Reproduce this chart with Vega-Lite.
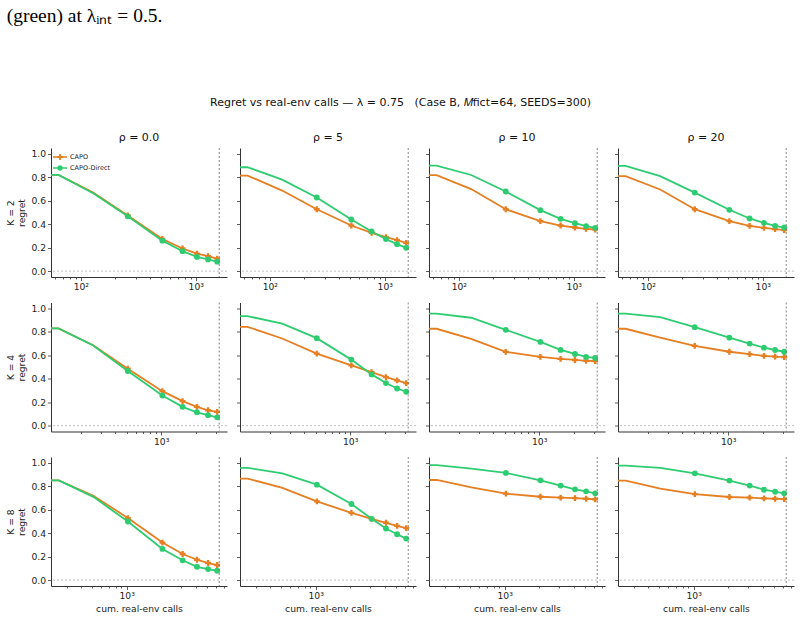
{
"$schema":"https://vega.github.io/schema/vega-lite/v6.json",
"padding":{"left":6,"right":2,"top":6,"bottom":4},
"title":{"text":"(green) at λᵢₙₜ = 0.5.","anchor":"start","font":"Liberation Serif","fontSize":19.5,"fontWeight":"normal","color":"#000","offset":70},
"datasets":{"d":[
{"K":2,"r":0,"x":55,"CAPO":0.82,"CAPO-Direct":0.82},{"K":2,"r":0,"x":64,"CAPO":0.82,"CAPO-Direct":0.82},{"K":2,"r":0,"x":128,"CAPO":0.67,"CAPO-Direct":0.665},{"K":2,"r":0,"x":256,"CAPO":0.475,"CAPO-Direct":0.467},{"K":2,"r":0,"x":512,"CAPO":0.274,"CAPO-Direct":0.26},{"K":2,"r":0,"x":768,"CAPO":0.193,"CAPO-Direct":0.17},{"K":2,"r":0,"x":1024,"CAPO":0.15,"CAPO-Direct":0.121},{"K":2,"r":0,"x":1280,"CAPO":0.127,"CAPO-Direct":0.10},{"K":2,"r":0,"x":1536,"CAPO":0.107,"CAPO-Direct":0.081},
{"K":2,"r":5,"x":55,"CAPO":0.815,"CAPO-Direct":0.886},{"K":2,"r":5,"x":64,"CAPO":0.815,"CAPO-Direct":0.886},{"K":2,"r":5,"x":128,"CAPO":0.687,"CAPO-Direct":0.78},{"K":2,"r":5,"x":256,"CAPO":0.528,"CAPO-Direct":0.628},{"K":2,"r":5,"x":512,"CAPO":0.389,"CAPO-Direct":0.44},{"K":2,"r":5,"x":768,"CAPO":0.327,"CAPO-Direct":0.338},{"K":2,"r":5,"x":1024,"CAPO":0.29,"CAPO-Direct":0.273},{"K":2,"r":5,"x":1280,"CAPO":0.264,"CAPO-Direct":0.23},{"K":2,"r":5,"x":1536,"CAPO":0.241,"CAPO-Direct":0.199},
{"K":2,"r":10,"x":55,"CAPO":0.818,"CAPO-Direct":0.90},{"K":2,"r":10,"x":64,"CAPO":0.818,"CAPO-Direct":0.90},{"K":2,"r":10,"x":128,"CAPO":0.70,"CAPO-Direct":0.82},{"K":2,"r":10,"x":256,"CAPO":0.528,"CAPO-Direct":0.679},{"K":2,"r":10,"x":512,"CAPO":0.426,"CAPO-Direct":0.52},{"K":2,"r":10,"x":768,"CAPO":0.389,"CAPO-Direct":0.446},{"K":2,"r":10,"x":1024,"CAPO":0.372,"CAPO-Direct":0.409},{"K":2,"r":10,"x":1280,"CAPO":0.361,"CAPO-Direct":0.384},{"K":2,"r":10,"x":1536,"CAPO":0.355,"CAPO-Direct":0.369},
{"K":2,"r":20,"x":55,"CAPO":0.81,"CAPO-Direct":0.898},{"K":2,"r":20,"x":64,"CAPO":0.81,"CAPO-Direct":0.898},{"K":2,"r":20,"x":128,"CAPO":0.696,"CAPO-Direct":0.81},{"K":2,"r":20,"x":256,"CAPO":0.528,"CAPO-Direct":0.67},{"K":2,"r":20,"x":512,"CAPO":0.426,"CAPO-Direct":0.523},{"K":2,"r":20,"x":768,"CAPO":0.386,"CAPO-Direct":0.449},{"K":2,"r":20,"x":1024,"CAPO":0.369,"CAPO-Direct":0.412},{"K":2,"r":20,"x":1280,"CAPO":0.358,"CAPO-Direct":0.386},{"K":2,"r":20,"x":1536,"CAPO":0.349,"CAPO-Direct":0.372},
{"K":4,"r":0,"x":110,"CAPO":0.829,"CAPO-Direct":0.829},{"K":4,"r":0,"x":128,"CAPO":0.829,"CAPO-Direct":0.829},{"K":4,"r":0,"x":256,"CAPO":0.686,"CAPO-Direct":0.683},{"K":4,"r":0,"x":512,"CAPO":0.486,"CAPO-Direct":0.466},{"K":4,"r":0,"x":1024,"CAPO":0.294,"CAPO-Direct":0.257},{"K":4,"r":0,"x":1536,"CAPO":0.209,"CAPO-Direct":0.16},{"K":4,"r":0,"x":2048,"CAPO":0.16,"CAPO-Direct":0.114},{"K":4,"r":0,"x":2560,"CAPO":0.131,"CAPO-Direct":0.089},{"K":4,"r":0,"x":3072,"CAPO":0.117,"CAPO-Direct":0.071},
{"K":4,"r":5,"x":110,"CAPO":0.843,"CAPO-Direct":0.934},{"K":4,"r":5,"x":128,"CAPO":0.843,"CAPO-Direct":0.934},{"K":4,"r":5,"x":256,"CAPO":0.743,"CAPO-Direct":0.869},{"K":4,"r":5,"x":512,"CAPO":0.614,"CAPO-Direct":0.746},{"K":4,"r":5,"x":1024,"CAPO":0.514,"CAPO-Direct":0.563},{"K":4,"r":5,"x":1536,"CAPO":0.457,"CAPO-Direct":0.437},{"K":4,"r":5,"x":2048,"CAPO":0.414,"CAPO-Direct":0.363},{"K":4,"r":5,"x":2560,"CAPO":0.386,"CAPO-Direct":0.317},{"K":4,"r":5,"x":3072,"CAPO":0.363,"CAPO-Direct":0.289},
{"K":4,"r":10,"x":110,"CAPO":0.826,"CAPO-Direct":0.955},{"K":4,"r":10,"x":128,"CAPO":0.826,"CAPO-Direct":0.955},{"K":4,"r":10,"x":256,"CAPO":0.74,"CAPO-Direct":0.92},{"K":4,"r":10,"x":512,"CAPO":0.629,"CAPO-Direct":0.817},{"K":4,"r":10,"x":1024,"CAPO":0.586,"CAPO-Direct":0.714},{"K":4,"r":10,"x":1536,"CAPO":0.569,"CAPO-Direct":0.646},{"K":4,"r":10,"x":2048,"CAPO":0.56,"CAPO-Direct":0.611},{"K":4,"r":10,"x":2560,"CAPO":0.553,"CAPO-Direct":0.586},{"K":4,"r":10,"x":3072,"CAPO":0.551,"CAPO-Direct":0.577},
{"K":4,"r":20,"x":110,"CAPO":0.826,"CAPO-Direct":0.955},{"K":4,"r":20,"x":128,"CAPO":0.826,"CAPO-Direct":0.955},{"K":4,"r":20,"x":256,"CAPO":0.75,"CAPO-Direct":0.925},{"K":4,"r":20,"x":512,"CAPO":0.68,"CAPO-Direct":0.84},{"K":4,"r":20,"x":1024,"CAPO":0.63,"CAPO-Direct":0.75},{"K":4,"r":20,"x":1536,"CAPO":0.61,"CAPO-Direct":0.70},{"K":4,"r":20,"x":2048,"CAPO":0.595,"CAPO-Direct":0.665},{"K":4,"r":20,"x":2560,"CAPO":0.588,"CAPO-Direct":0.645},{"K":4,"r":20,"x":3072,"CAPO":0.585,"CAPO-Direct":0.63},
{"K":8,"r":0,"x":219,"CAPO":0.851,"CAPO-Direct":0.851},{"K":8,"r":0,"x":256,"CAPO":0.851,"CAPO-Direct":0.851},{"K":8,"r":0,"x":512,"CAPO":0.72,"CAPO-Direct":0.71},{"K":8,"r":0,"x":1024,"CAPO":0.529,"CAPO-Direct":0.50},{"K":8,"r":0,"x":2048,"CAPO":0.32,"CAPO-Direct":0.266},{"K":8,"r":0,"x":3072,"CAPO":0.223,"CAPO-Direct":0.169},{"K":8,"r":0,"x":4096,"CAPO":0.174,"CAPO-Direct":0.114},{"K":8,"r":0,"x":5120,"CAPO":0.146,"CAPO-Direct":0.094},{"K":8,"r":0,"x":6144,"CAPO":0.129,"CAPO-Direct":0.08},
{"K":8,"r":5,"x":219,"CAPO":0.866,"CAPO-Direct":0.957},{"K":8,"r":5,"x":256,"CAPO":0.866,"CAPO-Direct":0.957},{"K":8,"r":5,"x":512,"CAPO":0.786,"CAPO-Direct":0.911},{"K":8,"r":5,"x":1024,"CAPO":0.671,"CAPO-Direct":0.814},{"K":8,"r":5,"x":2048,"CAPO":0.574,"CAPO-Direct":0.649},{"K":8,"r":5,"x":3072,"CAPO":0.523,"CAPO-Direct":0.523},{"K":8,"r":5,"x":4096,"CAPO":0.489,"CAPO-Direct":0.44},{"K":8,"r":5,"x":5120,"CAPO":0.463,"CAPO-Direct":0.391},{"K":8,"r":5,"x":6144,"CAPO":0.443,"CAPO-Direct":0.354},
{"K":8,"r":10,"x":219,"CAPO":0.854,"CAPO-Direct":0.98},{"K":8,"r":10,"x":256,"CAPO":0.854,"CAPO-Direct":0.98},{"K":8,"r":10,"x":512,"CAPO":0.79,"CAPO-Direct":0.95},{"K":8,"r":10,"x":1024,"CAPO":0.737,"CAPO-Direct":0.914},{"K":8,"r":10,"x":2048,"CAPO":0.711,"CAPO-Direct":0.851},{"K":8,"r":10,"x":3072,"CAPO":0.703,"CAPO-Direct":0.806},{"K":8,"r":10,"x":4096,"CAPO":0.70,"CAPO-Direct":0.774},{"K":8,"r":10,"x":5120,"CAPO":0.694,"CAPO-Direct":0.757},{"K":8,"r":10,"x":6144,"CAPO":0.689,"CAPO-Direct":0.74},
{"K":8,"r":20,"x":219,"CAPO":0.849,"CAPO-Direct":0.977},{"K":8,"r":20,"x":256,"CAPO":0.849,"CAPO-Direct":0.977},{"K":8,"r":20,"x":512,"CAPO":0.78,"CAPO-Direct":0.957},{"K":8,"r":20,"x":1024,"CAPO":0.734,"CAPO-Direct":0.911},{"K":8,"r":20,"x":2048,"CAPO":0.709,"CAPO-Direct":0.849},{"K":8,"r":20,"x":3072,"CAPO":0.703,"CAPO-Direct":0.806},{"K":8,"r":20,"x":4096,"CAPO":0.697,"CAPO-Direct":0.771},{"K":8,"r":20,"x":5120,"CAPO":0.694,"CAPO-Direct":0.754},{"K":8,"r":20,"x":6144,"CAPO":0.691,"CAPO-Direct":0.74}
]},
"data":{"name":"d"},
"resolve":{"scale":{"x":"independent","y":"independent","color":"independent","shape":"independent"},"axis":{"x":"independent","y":"independent"},"legend":{"color":"independent","shape":"independent"}},
"vconcat":[{
"title":{"text":"Regret vs real-env calls — λ = 0.75\u00a0\u00a0\u00a0(Case B, 𝑀fict=64, SEEDS=300)","fontSize":11,"fontWeight":"normal","font":"DejaVu Sans","anchor":"middle","offset":24,"color":"#111"},
"spacing":9.5,
"resolve":{"scale":{"x":"independent","y":"independent","color":"independent","shape":"independent"},"axis":{"x":"independent","y":"independent"},"legend":{"color":"independent","shape":"independent"}},
"vconcat":[
{"spacing":8,
"resolve":{"scale":{"x":"independent","y":"independent","color":"independent","shape":"independent"},"axis":{"x":"independent","y":"independent"},"legend":{"color":"independent","shape":"independent"}},
"hconcat":[
{"width":176,"height":129,"title":"ρ = 0.0","layer":[
{"transform":[{"filter":"datum.K==2&&datum.r==0"},{"fold":["CAPO","CAPO-Direct"],"as":["s","y"]}],"mark":{"type":"line","strokeWidth":1.8},
"encoding":{"x":{"field":"x","type":"quantitative","scale":{"type":"log","domain":[55,1870],"nice":false},"axis":{"values":[60,70,80,90,100,200,300,400,500,600,700,800,900,1000],"tickCount":30,"labelExpr":"datum.value==100?'10²':datum.value==1000?'10³':''","tickSize":{"condition":{"test":"datum.value==100||datum.value==1000","value":3.5},"value":2},"title":null}},
"y":{"field":"y","type":"quantitative","scale":{"domain":[-0.05,1.05],"nice":false,"zero":false},"axis":{"values":[0,0.2,0.4,0.6,0.8,1],"tickCount":12,"format":".1f","labelOverlap":false,"title":["K = 2","regret"]}},
"color":{"field":"s","type":"nominal","scale":{"domain":["CAPO","CAPO-Direct"],"range":["#e67e22","#2ecc71"]},"legend":{"orient":"top-left","title":null,"labelFontSize":6.5,"symbolSize":196,"rowPadding":-5,"offset":2,"padding":0,"labelOffset":3,"symbolStrokeWidth":0,"encode":{"symbols":{"update":{"shape":{"signal":"datum.value==='CAPO'?'M-1,-0.11H1V0.11H-1Z M-0.13,-0.42H0.13V-0.13H0.42V0.13H0.13V0.42H-0.13V0.13H-0.42V-0.13H-0.13Z':'M-1,-0.11H1V0.11H-1Z M-0.4,0A0.4,0.4 0 1,1 0.4,0A0.4,0.4 0 1,1 -0.4,0Z'"}}}}}}}},
{"transform":[{"filter":"datum.K==2&&datum.r==0&&datum.x>=128*datum.K"},{"fold":["CAPO"],"as":["s","y"]}],"mark":{"type":"point","filled":true,"size":34,"opacity":1,"shape":"cross"},
"encoding":{"x":{"field":"x","type":"quantitative"},"y":{"field":"y","type":"quantitative"},
"color":{"field":"s","type":"nominal","scale":{"domain":["CAPO","CAPO-Direct"],"range":["#e67e22","#2ecc71"]},"legend":{"orient":"top-left","title":null,"labelFontSize":6.5,"symbolSize":196,"rowPadding":-5,"offset":2,"padding":0,"labelOffset":3,"symbolStrokeWidth":0,"encode":{"symbols":{"update":{"shape":{"signal":"datum.value==='CAPO'?'M-1,-0.11H1V0.11H-1Z M-0.13,-0.42H0.13V-0.13H0.42V0.13H0.13V0.42H-0.13V0.13H-0.42V-0.13H-0.13Z':'M-1,-0.11H1V0.11H-1Z M-0.4,0A0.4,0.4 0 1,1 0.4,0A0.4,0.4 0 1,1 -0.4,0Z'"}}}}}}}},
{"transform":[{"filter":"datum.K==2&&datum.r==0&&datum.x>=128*datum.K"},{"fold":["CAPO-Direct"],"as":["s","y"]}],"mark":{"type":"point","filled":true,"size":34,"opacity":1,"shape":"circle"},
"encoding":{"x":{"field":"x","type":"quantitative"},"y":{"field":"y","type":"quantitative"},
"color":{"field":"s","type":"nominal","scale":{"domain":["CAPO","CAPO-Direct"],"range":["#e67e22","#2ecc71"]},"legend":{"orient":"top-left","title":null,"labelFontSize":6.5,"symbolSize":196,"rowPadding":-5,"offset":2,"padding":0,"labelOffset":3,"symbolStrokeWidth":0,"encode":{"symbols":{"update":{"shape":{"signal":"datum.value==='CAPO'?'M-1,-0.11H1V0.11H-1Z M-0.13,-0.42H0.13V-0.13H0.42V0.13H0.13V0.42H-0.13V0.13H-0.42V-0.13H-0.13Z':'M-1,-0.11H1V0.11H-1Z M-0.4,0A0.4,0.4 0 1,1 0.4,0A0.4,0.4 0 1,1 -0.4,0Z'"}}}}}}}},
{"data":{"values":[{}]},"mark":{"type":"rule","color":"#b0b0b0","strokeDash":[2,2],"strokeWidth":0.8},"encoding":{"y":{"datum":0}}},
{"data":{"values":[{}]},"mark":{"type":"rule","color":"#777777","strokeDash":[2,2],"strokeWidth":0.9},"encoding":{"x":{"datum":1600}}}
]},
{"width":176,"height":129,"title":"ρ = 5","layer":[
{"transform":[{"filter":"datum.K==2&&datum.r==5"},{"fold":["CAPO","CAPO-Direct"],"as":["s","y"]}],"mark":{"type":"line","strokeWidth":1.8},
"encoding":{"x":{"field":"x","type":"quantitative","scale":{"type":"log","domain":[55,1870],"nice":false},"axis":{"values":[60,70,80,90,100,200,300,400,500,600,700,800,900,1000],"tickCount":30,"labelExpr":"datum.value==100?'10²':datum.value==1000?'10³':''","tickSize":{"condition":{"test":"datum.value==100||datum.value==1000","value":3.5},"value":2},"title":null}},
"y":{"field":"y","type":"quantitative","scale":{"domain":[-0.05,1.05],"nice":false,"zero":false},"axis":{"values":[0,0.2,0.4,0.6,0.8,1],"tickCount":12,"labels":false,"title":null}},
"color":{"field":"s","type":"nominal","scale":{"domain":["CAPO","CAPO-Direct"],"range":["#e67e22","#2ecc71"]},"legend":null}}},
{"transform":[{"filter":"datum.K==2&&datum.r==5&&datum.x>=128*datum.K"},{"fold":["CAPO","CAPO-Direct"],"as":["s","y"]}],"mark":{"type":"point","filled":true,"size":34,"opacity":1},
"encoding":{"x":{"field":"x","type":"quantitative"},"y":{"field":"y","type":"quantitative"},
"color":{"field":"s","type":"nominal","scale":{"domain":["CAPO","CAPO-Direct"],"range":["#e67e22","#2ecc71"]},"legend":null},
"shape":{"field":"s","type":"nominal","scale":{"domain":["CAPO","CAPO-Direct"],"range":["cross","circle"]},"legend":null}}},
{"data":{"values":[{}]},"mark":{"type":"rule","color":"#b0b0b0","strokeDash":[2,2],"strokeWidth":0.8},"encoding":{"y":{"datum":0}}},
{"data":{"values":[{}]},"mark":{"type":"rule","color":"#777777","strokeDash":[2,2],"strokeWidth":0.9},"encoding":{"x":{"datum":1600}}}
]},
{"width":176,"height":129,"title":"ρ = 10","layer":[
{"transform":[{"filter":"datum.K==2&&datum.r==10"},{"fold":["CAPO","CAPO-Direct"],"as":["s","y"]}],"mark":{"type":"line","strokeWidth":1.8},
"encoding":{"x":{"field":"x","type":"quantitative","scale":{"type":"log","domain":[55,1870],"nice":false},"axis":{"values":[60,70,80,90,100,200,300,400,500,600,700,800,900,1000],"tickCount":30,"labelExpr":"datum.value==100?'10²':datum.value==1000?'10³':''","tickSize":{"condition":{"test":"datum.value==100||datum.value==1000","value":3.5},"value":2},"title":null}},
"y":{"field":"y","type":"quantitative","scale":{"domain":[-0.05,1.05],"nice":false,"zero":false},"axis":{"values":[0,0.2,0.4,0.6,0.8,1],"tickCount":12,"labels":false,"title":null}},
"color":{"field":"s","type":"nominal","scale":{"domain":["CAPO","CAPO-Direct"],"range":["#e67e22","#2ecc71"]},"legend":null}}},
{"transform":[{"filter":"datum.K==2&&datum.r==10&&datum.x>=128*datum.K"},{"fold":["CAPO","CAPO-Direct"],"as":["s","y"]}],"mark":{"type":"point","filled":true,"size":34,"opacity":1},
"encoding":{"x":{"field":"x","type":"quantitative"},"y":{"field":"y","type":"quantitative"},
"color":{"field":"s","type":"nominal","scale":{"domain":["CAPO","CAPO-Direct"],"range":["#e67e22","#2ecc71"]},"legend":null},
"shape":{"field":"s","type":"nominal","scale":{"domain":["CAPO","CAPO-Direct"],"range":["cross","circle"]},"legend":null}}},
{"data":{"values":[{}]},"mark":{"type":"rule","color":"#b0b0b0","strokeDash":[2,2],"strokeWidth":0.8},"encoding":{"y":{"datum":0}}},
{"data":{"values":[{}]},"mark":{"type":"rule","color":"#777777","strokeDash":[2,2],"strokeWidth":0.9},"encoding":{"x":{"datum":1600}}}
]},
{"width":176,"height":129,"title":"ρ = 20","layer":[
{"transform":[{"filter":"datum.K==2&&datum.r==20"},{"fold":["CAPO","CAPO-Direct"],"as":["s","y"]}],"mark":{"type":"line","strokeWidth":1.8},
"encoding":{"x":{"field":"x","type":"quantitative","scale":{"type":"log","domain":[55,1870],"nice":false},"axis":{"values":[60,70,80,90,100,200,300,400,500,600,700,800,900,1000],"tickCount":30,"labelExpr":"datum.value==100?'10²':datum.value==1000?'10³':''","tickSize":{"condition":{"test":"datum.value==100||datum.value==1000","value":3.5},"value":2},"title":null}},
"y":{"field":"y","type":"quantitative","scale":{"domain":[-0.05,1.05],"nice":false,"zero":false},"axis":{"values":[0,0.2,0.4,0.6,0.8,1],"tickCount":12,"labels":false,"title":null}},
"color":{"field":"s","type":"nominal","scale":{"domain":["CAPO","CAPO-Direct"],"range":["#e67e22","#2ecc71"]},"legend":null}}},
{"transform":[{"filter":"datum.K==2&&datum.r==20&&datum.x>=128*datum.K"},{"fold":["CAPO","CAPO-Direct"],"as":["s","y"]}],"mark":{"type":"point","filled":true,"size":34,"opacity":1},
"encoding":{"x":{"field":"x","type":"quantitative"},"y":{"field":"y","type":"quantitative"},
"color":{"field":"s","type":"nominal","scale":{"domain":["CAPO","CAPO-Direct"],"range":["#e67e22","#2ecc71"]},"legend":null},
"shape":{"field":"s","type":"nominal","scale":{"domain":["CAPO","CAPO-Direct"],"range":["cross","circle"]},"legend":null}}},
{"data":{"values":[{}]},"mark":{"type":"rule","color":"#b0b0b0","strokeDash":[2,2],"strokeWidth":0.8},"encoding":{"y":{"datum":0}}},
{"data":{"values":[{}]},"mark":{"type":"rule","color":"#777777","strokeDash":[2,2],"strokeWidth":0.9},"encoding":{"x":{"datum":1600}}}
]}
]},
{"spacing":8,
"resolve":{"scale":{"x":"independent","y":"independent","color":"independent","shape":"independent"},"axis":{"x":"independent","y":"independent"},"legend":{"color":"independent","shape":"independent"}},
"hconcat":[
{"width":176,"height":129,"layer":[
{"transform":[{"filter":"datum.K==4&&datum.r==0"},{"fold":["CAPO","CAPO-Direct"],"as":["s","y"]}],"mark":{"type":"line","strokeWidth":1.8},
"encoding":{"x":{"field":"x","type":"quantitative","scale":{"type":"log","domain":[110,3740],"nice":false},"axis":{"values":[200,300,400,500,600,700,800,900,1000,2000,3000],"tickCount":30,"labelExpr":"datum.value==1000?'10³':''","tickSize":{"condition":{"test":"datum.value==1000","value":3.5},"value":2},"title":null}},
"y":{"field":"y","type":"quantitative","scale":{"domain":[-0.05,1.05],"nice":false,"zero":false},"axis":{"values":[0,0.2,0.4,0.6,0.8,1],"tickCount":12,"format":".1f","labelOverlap":false,"title":["K = 4","regret"]}},
"color":{"field":"s","type":"nominal","scale":{"domain":["CAPO","CAPO-Direct"],"range":["#e67e22","#2ecc71"]},"legend":null}}},
{"transform":[{"filter":"datum.K==4&&datum.r==0&&datum.x>=128*datum.K"},{"fold":["CAPO","CAPO-Direct"],"as":["s","y"]}],"mark":{"type":"point","filled":true,"size":34,"opacity":1},
"encoding":{"x":{"field":"x","type":"quantitative"},"y":{"field":"y","type":"quantitative"},
"color":{"field":"s","type":"nominal","scale":{"domain":["CAPO","CAPO-Direct"],"range":["#e67e22","#2ecc71"]},"legend":null},
"shape":{"field":"s","type":"nominal","scale":{"domain":["CAPO","CAPO-Direct"],"range":["cross","circle"]},"legend":null}}},
{"data":{"values":[{}]},"mark":{"type":"rule","color":"#b0b0b0","strokeDash":[2,2],"strokeWidth":0.8},"encoding":{"y":{"datum":0}}},
{"data":{"values":[{}]},"mark":{"type":"rule","color":"#777777","strokeDash":[2,2],"strokeWidth":0.9},"encoding":{"x":{"datum":3200}}}
]},
{"width":176,"height":129,"layer":[
{"transform":[{"filter":"datum.K==4&&datum.r==5"},{"fold":["CAPO","CAPO-Direct"],"as":["s","y"]}],"mark":{"type":"line","strokeWidth":1.8},
"encoding":{"x":{"field":"x","type":"quantitative","scale":{"type":"log","domain":[110,3740],"nice":false},"axis":{"values":[200,300,400,500,600,700,800,900,1000,2000,3000],"tickCount":30,"labelExpr":"datum.value==1000?'10³':''","tickSize":{"condition":{"test":"datum.value==1000","value":3.5},"value":2},"title":null}},
"y":{"field":"y","type":"quantitative","scale":{"domain":[-0.05,1.05],"nice":false,"zero":false},"axis":{"values":[0,0.2,0.4,0.6,0.8,1],"tickCount":12,"labels":false,"title":null}},
"color":{"field":"s","type":"nominal","scale":{"domain":["CAPO","CAPO-Direct"],"range":["#e67e22","#2ecc71"]},"legend":null}}},
{"transform":[{"filter":"datum.K==4&&datum.r==5&&datum.x>=128*datum.K"},{"fold":["CAPO","CAPO-Direct"],"as":["s","y"]}],"mark":{"type":"point","filled":true,"size":34,"opacity":1},
"encoding":{"x":{"field":"x","type":"quantitative"},"y":{"field":"y","type":"quantitative"},
"color":{"field":"s","type":"nominal","scale":{"domain":["CAPO","CAPO-Direct"],"range":["#e67e22","#2ecc71"]},"legend":null},
"shape":{"field":"s","type":"nominal","scale":{"domain":["CAPO","CAPO-Direct"],"range":["cross","circle"]},"legend":null}}},
{"data":{"values":[{}]},"mark":{"type":"rule","color":"#b0b0b0","strokeDash":[2,2],"strokeWidth":0.8},"encoding":{"y":{"datum":0}}},
{"data":{"values":[{}]},"mark":{"type":"rule","color":"#777777","strokeDash":[2,2],"strokeWidth":0.9},"encoding":{"x":{"datum":3200}}}
]},
{"width":176,"height":129,"layer":[
{"transform":[{"filter":"datum.K==4&&datum.r==10"},{"fold":["CAPO","CAPO-Direct"],"as":["s","y"]}],"mark":{"type":"line","strokeWidth":1.8},
"encoding":{"x":{"field":"x","type":"quantitative","scale":{"type":"log","domain":[110,3740],"nice":false},"axis":{"values":[200,300,400,500,600,700,800,900,1000,2000,3000],"tickCount":30,"labelExpr":"datum.value==1000?'10³':''","tickSize":{"condition":{"test":"datum.value==1000","value":3.5},"value":2},"title":null}},
"y":{"field":"y","type":"quantitative","scale":{"domain":[-0.05,1.05],"nice":false,"zero":false},"axis":{"values":[0,0.2,0.4,0.6,0.8,1],"tickCount":12,"labels":false,"title":null}},
"color":{"field":"s","type":"nominal","scale":{"domain":["CAPO","CAPO-Direct"],"range":["#e67e22","#2ecc71"]},"legend":null}}},
{"transform":[{"filter":"datum.K==4&&datum.r==10&&datum.x>=128*datum.K"},{"fold":["CAPO","CAPO-Direct"],"as":["s","y"]}],"mark":{"type":"point","filled":true,"size":34,"opacity":1},
"encoding":{"x":{"field":"x","type":"quantitative"},"y":{"field":"y","type":"quantitative"},
"color":{"field":"s","type":"nominal","scale":{"domain":["CAPO","CAPO-Direct"],"range":["#e67e22","#2ecc71"]},"legend":null},
"shape":{"field":"s","type":"nominal","scale":{"domain":["CAPO","CAPO-Direct"],"range":["cross","circle"]},"legend":null}}},
{"data":{"values":[{}]},"mark":{"type":"rule","color":"#b0b0b0","strokeDash":[2,2],"strokeWidth":0.8},"encoding":{"y":{"datum":0}}},
{"data":{"values":[{}]},"mark":{"type":"rule","color":"#777777","strokeDash":[2,2],"strokeWidth":0.9},"encoding":{"x":{"datum":3200}}}
]},
{"width":176,"height":129,"layer":[
{"transform":[{"filter":"datum.K==4&&datum.r==20"},{"fold":["CAPO","CAPO-Direct"],"as":["s","y"]}],"mark":{"type":"line","strokeWidth":1.8},
"encoding":{"x":{"field":"x","type":"quantitative","scale":{"type":"log","domain":[110,3740],"nice":false},"axis":{"values":[200,300,400,500,600,700,800,900,1000,2000,3000],"tickCount":30,"labelExpr":"datum.value==1000?'10³':''","tickSize":{"condition":{"test":"datum.value==1000","value":3.5},"value":2},"title":null}},
"y":{"field":"y","type":"quantitative","scale":{"domain":[-0.05,1.05],"nice":false,"zero":false},"axis":{"values":[0,0.2,0.4,0.6,0.8,1],"tickCount":12,"labels":false,"title":null}},
"color":{"field":"s","type":"nominal","scale":{"domain":["CAPO","CAPO-Direct"],"range":["#e67e22","#2ecc71"]},"legend":null}}},
{"transform":[{"filter":"datum.K==4&&datum.r==20&&datum.x>=128*datum.K"},{"fold":["CAPO","CAPO-Direct"],"as":["s","y"]}],"mark":{"type":"point","filled":true,"size":34,"opacity":1},
"encoding":{"x":{"field":"x","type":"quantitative"},"y":{"field":"y","type":"quantitative"},
"color":{"field":"s","type":"nominal","scale":{"domain":["CAPO","CAPO-Direct"],"range":["#e67e22","#2ecc71"]},"legend":null},
"shape":{"field":"s","type":"nominal","scale":{"domain":["CAPO","CAPO-Direct"],"range":["cross","circle"]},"legend":null}}},
{"data":{"values":[{}]},"mark":{"type":"rule","color":"#b0b0b0","strokeDash":[2,2],"strokeWidth":0.8},"encoding":{"y":{"datum":0}}},
{"data":{"values":[{}]},"mark":{"type":"rule","color":"#777777","strokeDash":[2,2],"strokeWidth":0.9},"encoding":{"x":{"datum":3200}}}
]}
]},
{"spacing":8,
"resolve":{"scale":{"x":"independent","y":"independent","color":"independent","shape":"independent"},"axis":{"x":"independent","y":"independent"},"legend":{"color":"independent","shape":"independent"}},
"hconcat":[
{"width":176,"height":129,"layer":[
{"transform":[{"filter":"datum.K==8&&datum.r==0"},{"fold":["CAPO","CAPO-Direct"],"as":["s","y"]}],"mark":{"type":"line","strokeWidth":1.8},
"encoding":{"x":{"field":"x","type":"quantitative","scale":{"type":"log","domain":[219,7480],"nice":false},"axis":{"values":[300,400,500,600,700,800,900,1000,2000,3000,4000,5000,6000,7000],"tickCount":30,"labelExpr":"datum.value==1000?'10³':''","tickSize":{"condition":{"test":"datum.value==1000","value":3.5},"value":2},"title":"cum. real-env calls"}},
"y":{"field":"y","type":"quantitative","scale":{"domain":[-0.05,1.05],"nice":false,"zero":false},"axis":{"values":[0,0.2,0.4,0.6,0.8,1],"tickCount":12,"format":".1f","labelOverlap":false,"title":["K = 8","regret"]}},
"color":{"field":"s","type":"nominal","scale":{"domain":["CAPO","CAPO-Direct"],"range":["#e67e22","#2ecc71"]},"legend":null}}},
{"transform":[{"filter":"datum.K==8&&datum.r==0&&datum.x>=128*datum.K"},{"fold":["CAPO","CAPO-Direct"],"as":["s","y"]}],"mark":{"type":"point","filled":true,"size":34,"opacity":1},
"encoding":{"x":{"field":"x","type":"quantitative"},"y":{"field":"y","type":"quantitative"},
"color":{"field":"s","type":"nominal","scale":{"domain":["CAPO","CAPO-Direct"],"range":["#e67e22","#2ecc71"]},"legend":null},
"shape":{"field":"s","type":"nominal","scale":{"domain":["CAPO","CAPO-Direct"],"range":["cross","circle"]},"legend":null}}},
{"data":{"values":[{}]},"mark":{"type":"rule","color":"#b0b0b0","strokeDash":[2,2],"strokeWidth":0.8},"encoding":{"y":{"datum":0}}},
{"data":{"values":[{}]},"mark":{"type":"rule","color":"#777777","strokeDash":[2,2],"strokeWidth":0.9},"encoding":{"x":{"datum":6400}}}
]},
{"width":176,"height":129,"layer":[
{"transform":[{"filter":"datum.K==8&&datum.r==5"},{"fold":["CAPO","CAPO-Direct"],"as":["s","y"]}],"mark":{"type":"line","strokeWidth":1.8},
"encoding":{"x":{"field":"x","type":"quantitative","scale":{"type":"log","domain":[219,7480],"nice":false},"axis":{"values":[300,400,500,600,700,800,900,1000,2000,3000,4000,5000,6000,7000],"tickCount":30,"labelExpr":"datum.value==1000?'10³':''","tickSize":{"condition":{"test":"datum.value==1000","value":3.5},"value":2},"title":"cum. real-env calls"}},
"y":{"field":"y","type":"quantitative","scale":{"domain":[-0.05,1.05],"nice":false,"zero":false},"axis":{"values":[0,0.2,0.4,0.6,0.8,1],"tickCount":12,"labels":false,"title":null}},
"color":{"field":"s","type":"nominal","scale":{"domain":["CAPO","CAPO-Direct"],"range":["#e67e22","#2ecc71"]},"legend":null}}},
{"transform":[{"filter":"datum.K==8&&datum.r==5&&datum.x>=128*datum.K"},{"fold":["CAPO","CAPO-Direct"],"as":["s","y"]}],"mark":{"type":"point","filled":true,"size":34,"opacity":1},
"encoding":{"x":{"field":"x","type":"quantitative"},"y":{"field":"y","type":"quantitative"},
"color":{"field":"s","type":"nominal","scale":{"domain":["CAPO","CAPO-Direct"],"range":["#e67e22","#2ecc71"]},"legend":null},
"shape":{"field":"s","type":"nominal","scale":{"domain":["CAPO","CAPO-Direct"],"range":["cross","circle"]},"legend":null}}},
{"data":{"values":[{}]},"mark":{"type":"rule","color":"#b0b0b0","strokeDash":[2,2],"strokeWidth":0.8},"encoding":{"y":{"datum":0}}},
{"data":{"values":[{}]},"mark":{"type":"rule","color":"#777777","strokeDash":[2,2],"strokeWidth":0.9},"encoding":{"x":{"datum":6400}}}
]},
{"width":176,"height":129,"layer":[
{"transform":[{"filter":"datum.K==8&&datum.r==10"},{"fold":["CAPO","CAPO-Direct"],"as":["s","y"]}],"mark":{"type":"line","strokeWidth":1.8},
"encoding":{"x":{"field":"x","type":"quantitative","scale":{"type":"log","domain":[219,7480],"nice":false},"axis":{"values":[300,400,500,600,700,800,900,1000,2000,3000,4000,5000,6000,7000],"tickCount":30,"labelExpr":"datum.value==1000?'10³':''","tickSize":{"condition":{"test":"datum.value==1000","value":3.5},"value":2},"title":"cum. real-env calls"}},
"y":{"field":"y","type":"quantitative","scale":{"domain":[-0.05,1.05],"nice":false,"zero":false},"axis":{"values":[0,0.2,0.4,0.6,0.8,1],"tickCount":12,"labels":false,"title":null}},
"color":{"field":"s","type":"nominal","scale":{"domain":["CAPO","CAPO-Direct"],"range":["#e67e22","#2ecc71"]},"legend":null}}},
{"transform":[{"filter":"datum.K==8&&datum.r==10&&datum.x>=128*datum.K"},{"fold":["CAPO","CAPO-Direct"],"as":["s","y"]}],"mark":{"type":"point","filled":true,"size":34,"opacity":1},
"encoding":{"x":{"field":"x","type":"quantitative"},"y":{"field":"y","type":"quantitative"},
"color":{"field":"s","type":"nominal","scale":{"domain":["CAPO","CAPO-Direct"],"range":["#e67e22","#2ecc71"]},"legend":null},
"shape":{"field":"s","type":"nominal","scale":{"domain":["CAPO","CAPO-Direct"],"range":["cross","circle"]},"legend":null}}},
{"data":{"values":[{}]},"mark":{"type":"rule","color":"#b0b0b0","strokeDash":[2,2],"strokeWidth":0.8},"encoding":{"y":{"datum":0}}},
{"data":{"values":[{}]},"mark":{"type":"rule","color":"#777777","strokeDash":[2,2],"strokeWidth":0.9},"encoding":{"x":{"datum":6400}}}
]},
{"width":176,"height":129,"layer":[
{"transform":[{"filter":"datum.K==8&&datum.r==20"},{"fold":["CAPO","CAPO-Direct"],"as":["s","y"]}],"mark":{"type":"line","strokeWidth":1.8},
"encoding":{"x":{"field":"x","type":"quantitative","scale":{"type":"log","domain":[219,7480],"nice":false},"axis":{"values":[300,400,500,600,700,800,900,1000,2000,3000,4000,5000,6000,7000],"tickCount":30,"labelExpr":"datum.value==1000?'10³':''","tickSize":{"condition":{"test":"datum.value==1000","value":3.5},"value":2},"title":"cum. real-env calls"}},
"y":{"field":"y","type":"quantitative","scale":{"domain":[-0.05,1.05],"nice":false,"zero":false},"axis":{"values":[0,0.2,0.4,0.6,0.8,1],"tickCount":12,"labels":false,"title":null}},
"color":{"field":"s","type":"nominal","scale":{"domain":["CAPO","CAPO-Direct"],"range":["#e67e22","#2ecc71"]},"legend":null}}},
{"transform":[{"filter":"datum.K==8&&datum.r==20&&datum.x>=128*datum.K"},{"fold":["CAPO","CAPO-Direct"],"as":["s","y"]}],"mark":{"type":"point","filled":true,"size":34,"opacity":1},
"encoding":{"x":{"field":"x","type":"quantitative"},"y":{"field":"y","type":"quantitative"},
"color":{"field":"s","type":"nominal","scale":{"domain":["CAPO","CAPO-Direct"],"range":["#e67e22","#2ecc71"]},"legend":null},
"shape":{"field":"s","type":"nominal","scale":{"domain":["CAPO","CAPO-Direct"],"range":["cross","circle"]},"legend":null}}},
{"data":{"values":[{}]},"mark":{"type":"rule","color":"#b0b0b0","strokeDash":[2,2],"strokeWidth":0.8},"encoding":{"y":{"datum":0}}},
{"data":{"values":[{}]},"mark":{"type":"rule","color":"#777777","strokeDash":[2,2],"strokeWidth":0.9},"encoding":{"x":{"datum":6400}}}
]}
]}
]}],
"config":{
"view":{"stroke":null},
"font":"DejaVu Sans",
"axis":{"grid":false,"domainColor":"#333333","tickColor":"#333333","labelColor":"#222222","labelFontSize":9.2,"titleFontSize":9.2,"titleFontWeight":"normal","titleColor":"#222222","labelFont":"DejaVu Sans","titleFont":"DejaVu Sans","domainWidth":1,"tickWidth":0.8,"tickSize":3.5,"labelPadding":2,"titlePadding":4,"labelOverlap":false},
"axisY":{"labelFlush":false},
"title":{"fontSize":11,"fontWeight":"normal","font":"DejaVu Sans","color":"#111111","offset":5},
"legend":{"labelFont":"DejaVu Sans","labelColor":"#222222"}
}
}
